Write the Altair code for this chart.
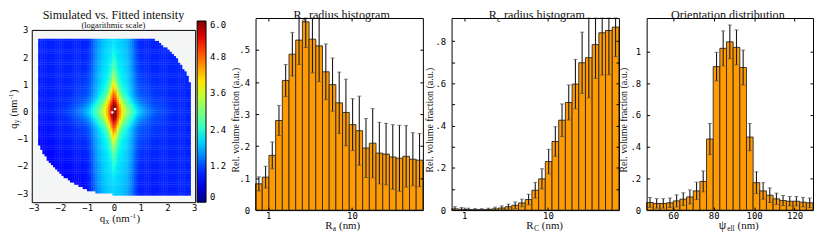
import numpy as np
import pandas as pd
import altair as alt

alt.data_transformers.disable_max_rows()

# ------------------------------------------------------------------ values
RA_VALUES = [0.082, 0.103, 0.171, 0.280, 0.405, 0.487, 0.531, 0.588, 0.534, 0.513,
             0.432, 0.392, 0.335, 0.305, 0.267, 0.248, 0.194, 0.209, 0.178, 0.175,
             0.166, 0.162, 0.168, 0.159, 0.156]
RA_ERRORS = [0.022, 0.034, 0.042, 0.047, 0.050, 0.068, 0.076, 0.080, 0.105, 0.112,
             0.087, 0.083, 0.096, 0.104, 0.081, 0.108, 0.092, 0.108, 0.096, 0.096,
             0.101, 0.103, 0.096, 0.083, 0.083]
RC_VALUES = [0.006, 0.004, 0.003, 0.002, 0.002, 0.003, 0.006, 0.010, 0.016, 0.023,
             0.034, 0.050, 0.094, 0.148, 0.230, 0.325, 0.426, 0.510, 0.597, 0.698,
             0.722, 0.784, 0.840, 0.851, 0.867]
RC_ERRORS = [0.010, 0.008, 0.006, 0.005, 0.005, 0.006, 0.008, 0.010, 0.012, 0.015,
             0.018, 0.025, 0.037, 0.048, 0.058, 0.070, 0.077, 0.083, 0.117, 0.145,
             0.190, 0.160, 0.200, 0.210, 0.140]
OR_VALUES = [0.048, 0.042, 0.042, 0.046, 0.058, 0.069, 0.083, 0.121, 0.181, 0.448,
             0.904, 1.019, 1.060, 1.025, 0.898, 0.460, 0.173, 0.121, 0.094, 0.071,
             0.060, 0.056, 0.056, 0.050, 0.046]
OR_ERRORS = [0.031, 0.030, 0.030, 0.030, 0.038, 0.040, 0.044, 0.055, 0.066, 0.098,
             0.090, 0.110, 0.106, 0.110, 0.110, 0.086, 0.068, 0.052, 0.046, 0.036,
             0.032, 0.030, 0.030, 0.030, 0.030]

R_RANGE = [0.705, 70.5]          # nm, log-spaced bins, also the axis domain
OR_RANGE = [46.9, 129.1]         # linear bins, also the axis domain
RA_YMAX, RC_YMAX, OR_YMAX = 0.6, 0.91, 1.21

R_X_TICKS = [1, 10]
OR_X_TICKS = [60, 80, 100, 120]
RA_Y_LABELS = [0, 0.1, 0.2, 0.3, 0.4, 0.5]
RA_Y_TICKS = [0.1, 0.2, 0.3, 0.4, 0.5]
RC_Y_LABELS = [0, 0.2, 0.4, 0.6, 0.8]
RC_Y_TICKS = [0.1, 0.2, 0.3, 0.4, 0.5, 0.6, 0.7, 0.8]
OR_Y_LABELS = [0, 0.2, 0.4, 0.6, 0.8, 1.0]
OR_Y_TICKS = [0.2, 0.4, 0.6, 0.8, 1.0]
Q_TICKS = [-3, -2, -1, 0, 1, 2, 3]
CBAR_TICKS = [0, 1.2, 2.4, 3.6, 4.8, 6.0]

# scattering image (log10 intensity), parameters
QX_DOMAIN = [-3.074, 3.037]
QY_DOMAIN = [-3.33, 3.0]
HEAT_CELLS = (77, 79)
CORE_PEAK, CORE_WX, CORE_SX, CORE_WY, CORE_SY = 6.3, 0.10, 2.3, 0.50, 3.5
STREAK_LEVEL, STREAK_DECAY, STREAK_HW = 2.3, 0.13, 0.6
BG_LEVEL, BG_BUMP, BG_R, BG_TILT = 0.92, 0.55, 1.4, 0.04
DETECTOR = dict(xmin=-2.84, xmax=2.88, ymin=-3.1, ymax=2.65, rcut=3.05)
CENTER_DOTS_QX = [0.04, -0.06]
CENTER_DOTS_QY = [0.09, -0.03]

# ------------------------------------------------------------------ layout (pixels in the view)
VIEW_W, VIEW_H = 814, 225
HEAT_XR, HEAT_YR = [24, 189], [195, 21]
CBAR_X, CBAR_Y, CBAR_LEN, CBAR_THICK = 191, 12, 183, 9
RA_XR, RC_XR, OR_XR = [250, 419], [448, 617], [645, 813]
HIST_YR = [203, 9]

SERIF = "Liberation Serif"
MONO = "DejaVu Sans Mono"
BAR_FILL = "#ff9b00"
MASK_COLOR = "#f4f5f5"


def jet_hex(t):
    r = np.interp(t, [0, 0.35, 0.66, 0.89, 1], [0, 0, 1, 1, 0.5])
    g = np.interp(t, [0, 0.125, 0.375, 0.64, 0.91, 1], [0, 0, 1, 1, 0, 0])
    b = np.interp(t, [0, 0.11, 0.34, 0.65, 1], [0.5, 1, 1, 0, 0])
    return "#%02x%02x%02x" % (int(round(r * 255)), int(round(g * 255)), int(round(b * 255)))


JET_T = np.linspace(0, 1, 25)
JET_DOMAIN = [round(float(t) * 6, 4) for t in JET_T]
JET_RANGE = [jet_hex(t) for t in JET_T]


# ------------------------------------------------------------------ helpers
def axis(orient, pos, values, labels=False, ticks=False, domain=False, pad=3, expr=None, tsize=3):
    off = {"left": -pos, "right": -(VIEW_W - pos), "top": -pos, "bottom": -(VIEW_H - pos)}[orient]
    kw = dict(orient=orient, offset=off, values=values, labels=labels, ticks=ticks,
              domain=domain, grid=False, title=None, zindex=2,
              tickSize=tsize if ticks else 0, labelPadding=pad)
    if expr:
        kw["labelExpr"] = expr
    return alt.Axis(**kw)


FRAC_EXPR = ("datum.value == 0 ? '0' : (datum.value >= 1 ? format(datum.value, 'd') : "
             "replace(format(datum.value, '.1f'), '0.', '.'))")


def hist_df(values, errors, rng, log):
    n = len(values)
    if log:
        edges = np.geomspace(rng[0], rng[1], n + 1)
        centers = np.sqrt(edges[:-1] * edges[1:])
    else:
        edges = np.linspace(rng[0], rng[1], n + 1)
        centers = (edges[:-1] + edges[1:]) / 2
    v = np.array(values)
    e = np.array(errors)
    return pd.DataFrame({"x0": edges[:-1], "x1": edges[1:], "xc": centers,
                         "v": v, "z": np.zeros(n), "lo": v - e, "hi": v + e})


def hist_panel(values, errors, rng, log, xr, ymax, xlab, ylab, yticks):
    df = hist_df(values, errors, rng, log)
    xs = alt.Scale(type="log" if log else "linear", domain=rng, range=xr, nice=False, zero=False)
    ys = alt.Scale(domain=[0, ymax], range=HIST_YR, nice=False, zero=False, clamp=True)
    base = alt.Chart(df)
    bars = base.mark_rect(fill=BAR_FILL, stroke="#262626", strokeWidth=0.9).encode(
        x=alt.X("x0:Q", scale=xs, axis=axis("bottom", HIST_YR[0], xlab, labels=True, domain=True, pad=1,
                                            expr="format(datum.value, 'd')")),
        x2="x1:Q",
        y=alt.Y("v:Q", scale=ys, axis=axis("left", xr[0], ylab, labels=True, domain=True, pad=6,
                                          expr=FRAC_EXPR)),
        y2="z:Q",
    )
    rules = base.mark_rule(color="#1a1a1a", strokeWidth=1.1).encode(
        x=alt.X("xc:Q", scale=xs, axis=axis("top", HIST_YR[0], xlab, ticks=True)),
        y=alt.Y("lo:Q", scale=ys, axis=axis("right", xr[0], yticks, ticks=True)),
        y2="hi:Q",
    )
    cap_top = base.mark_tick(orient="horizontal", size=4, thickness=1, color="#4a4a4a").encode(
        x=alt.X("xc:Q", scale=xs, axis=axis("bottom", HIST_YR[1], xlab, ticks=True, domain=True)),
        y=alt.Y("hi:Q", scale=ys, axis=axis("left", xr[1], yticks, ticks=True, domain=True)),
    )
    cap_bot = base.mark_tick(orient="horizontal", size=4, thickness=1, color="#4a4a4a").encode(
        x=alt.X("xc:Q", scale=xs, axis=None),
        y=alt.Y("lo:Q", scale=ys, axis=None),
    )
    return alt.layer(bars, rules, cap_top, cap_bot).resolve_axis(x="independent", y="independent")


# ------------------------------------------------------------------ heatmap
nx, ny = HEAT_CELLS
xe = np.linspace(QX_DOMAIN[0], QX_DOMAIN[1], nx + 1)
ye = np.linspace(QY_DOMAIN[0], QY_DOMAIN[1], ny + 1)
xc = (xe[:-1] + xe[1:]) / 2
yc = (ye[:-1] + ye[1:]) / 2
QX, QY = np.meshgrid(xc, yc)
R = np.hypot(QX, QY)
f_core = CORE_PEAK - CORE_SX * np.log10(1 + (QX / CORE_WX) ** 2) - CORE_SY * np.log10(1 + (QY / CORE_WY) ** 2)
streak = 10 ** (STREAK_LEVEL - STREAK_DECAY * np.abs(QY)) * np.exp(-(np.abs(QX) / STREAK_HW) ** 3)
f_bg = BG_LEVEL + BG_BUMP * np.exp(-(R / BG_R) ** 2) - BG_TILT * np.clip(-(QX + QY), 0, None)
F = np.clip(np.log10(10 ** f_core + streak + 10 ** f_bg), 0, 6)
inside = ((QX >= DETECTOR["xmin"]) & (QX <= DETECTOR["xmax"]) &
          (QY >= DETECTOR["ymin"]) & (QY <= DETECTOR["ymax"]) &
          ~((QX * QY > 0) & (R > DETECTOR["rcut"])))
padx = (xe[1] - xe[0]) * 0.15
pady = (ye[1] - ye[0]) * 0.15
X0, Y0 = np.meshgrid(xe[:-1], ye[:-1])
X1, Y1 = np.meshgrid(np.minimum(xe[1:] + padx, xe[-1]), np.minimum(ye[1:] + pady, ye[-1]))
heat_df = pd.DataFrame({
    "x0": X0.ravel().round(4), "x1": X1.ravel().round(4),
    "y0": Y0.ravel().round(4), "y1": Y1.ravel().round(4),
    "f": F.ravel().round(3), "m": (~inside).ravel().astype(int),
})

hxs = alt.Scale(domain=QX_DOMAIN, range=HEAT_XR, nice=False, zero=False)
hys = alt.Scale(domain=QY_DOMAIN, range=HEAT_YR, nice=False, zero=False)
cscale = alt.Scale(domain=JET_DOMAIN, range=JET_RANGE, clamp=True)

heat = alt.Chart(heat_df).mark_rect().encode(
    x=alt.X("x0:Q", scale=hxs, axis=axis("bottom", HEAT_YR[0], Q_TICKS, labels=True, domain=True, pad=1,
                                         expr="format(datum.value, 'd')")),
    x2="x1:Q",
    y=alt.Y("y0:Q", scale=hys, axis=axis("left", HEAT_XR[0], Q_TICKS, labels=True, domain=True, pad=4,
                                         expr="format(datum.value, 'd')")),
    y2="y1:Q",
    color=alt.condition(
        "datum.m == 1", alt.value(MASK_COLOR),
        alt.Color("f:Q", scale=cscale, legend=alt.Legend(
            orient="none", legendX=CBAR_X, legendY=CBAR_Y, direction="vertical",
            gradientLength=CBAR_LEN, gradientThickness=CBAR_THICK, values=CBAR_TICKS,
            labelExpr="datum.value == 0 ? '0' : format(datum.value, '.1f')",
            title=None, labelFont=MONO, labelFontSize=9, labelColor="black", labelOffset=4,
            gradientStrokeColor="black", gradientStrokeWidth=1, padding=0, labelOverlap=False)),
    ),
)
dots = alt.Chart(pd.DataFrame({"qx": CENTER_DOTS_QX, "qy": CENTER_DOTS_QY})).mark_square(
    size=5, color="white", opacity=1).encode(
    x=alt.X("qx:Q", scale=hxs, axis=axis("bottom", HEAT_YR[1], Q_TICKS, domain=True)),
    y=alt.Y("qy:Q", scale=hys, axis=axis("left", HEAT_XR[1], Q_TICKS, domain=True)),
)
heat_panel = alt.layer(heat, dots).resolve_axis(x="independent", y="independent")

ra_panel = hist_panel(RA_VALUES, RA_ERRORS, R_RANGE, True, RA_XR, RA_YMAX, R_X_TICKS, RA_Y_LABELS, RA_Y_TICKS)
rc_panel = hist_panel(RC_VALUES, RC_ERRORS, R_RANGE, True, RC_XR, RC_YMAX, R_X_TICKS, RC_Y_LABELS, RC_Y_TICKS)
or_panel = hist_panel(OR_VALUES, OR_ERRORS, OR_RANGE, False, OR_XR, OR_YMAX, OR_X_TICKS, OR_Y_LABELS, OR_Y_TICKS)

# ------------------------------------------------------------------ texts (with sub/superscripts)
TW = {" ": 250, "(": 333, ")": 333, ".": 250, "-": 333, "1": 500, "a": 444, "b": 500,
      "c": 444, "d": 500, "e": 444, "f": 333, "g": 500, "h": 500, "i": 278, "l": 278, "m": 778,
      "n": 500, "o": 500, "q": 500, "r": 333, "s": 389, "t": 278, "u": 500, "v": 500, "x": 500,
      "y": 500, "R": 667, "C": 667, "S": 556, "F": 556, "O": 722, "ψ": 686}


def tw(s, size):
    return sum(TW.get(ch, 500) for ch in s) / 1000.0 * size


rows = []


def rich(segments, cx, cy, angle=0):
    # segments: (text, font size, baseline shift, gap before in px)
    total = sum(tw(t, s) + g for t, s, _, g in segments)
    pos = -total / 2
    for t, s, sh, g in segments:
        pos += g
        if angle == 0:
            px, py = cx + pos, cy + sh
        else:
            px, py = cx + sh, cy - pos
        rows.append({"t": t, "px": round(px, 2), "py": round(py, 2), "fs": s, "ang": angle})
        pos += tw(t, s)


rich([("Simulated vs. Fitted intensity", 12.2, 0, 0)], 106.5, 9.6)
rich([("(logarithmic scale)", 8.6, 0, 0)], 106.5, 19.3)
rich([("R", 12.2, 0, 0), ("a", 8.3, 3, 0.3), ("radius histogram", 12.2, 0, 3.4)], 337, 9.6)
rich([("R", 12.2, 0, 0), ("c", 8.3, 3, 0.3), ("radius histogram", 12.2, 0, 3.4)], 534, 9.6)
rich([("Orientation distribution", 12.2, 0, 0)], 727, 9.6)

rich([("q", 11, 0, 0), ("x", 7.5, 2.5, 0.3), ("(nm", 11, 0, 3), ("-1", 7, -4, 0.5), (")", 11, 0, 0.5)], 113, 215)
rich([("R", 11, 0, 0), ("a", 7.5, 2.5, 0.3), ("(nm)", 11, 0, 3)], 338, 222)
rich([("R", 11, 0, 0), ("C", 7.5, 2.5, 0.3), ("(nm)", 11, 0, 3)], 542, 222)
rich([("ψ", 12, 0, 0), ("ell", 7.5, 2.5, 0.3), ("(nm)", 11, 0, 3)], 738, 222)

rich([("q", 10.5, 0, 0), ("y", 7.5, 2.5, 0.3), ("(nm", 10.5, 0, 3), ("-1", 7, -4, 0.5), (")", 10.5, 0, 0.5)],
     8.8, 101, 270)
for xcen in (230.5, 427, 623):
    rich([("Rel. volume fraction (a.u.)", 10, 0, 0)], xcen + 2.5, 112, 270)

texts = alt.Chart(pd.DataFrame(rows)).mark_text(
    align="left", baseline="alphabetic", font=SERIF, color="#111111").encode(
    x=alt.X("px:Q", scale=None, axis=None),
    y=alt.Y("py:Q", scale=None, axis=None),
    text="t:N",
    size=alt.Size("fs:Q", scale=None, legend=None),
    angle=alt.Angle("ang:Q", scale=None, legend=None),
)

chart = alt.layer(heat_panel, ra_panel, rc_panel, or_panel, texts).resolve_scale(
    x="independent", y="independent", color="independent", size="independent", angle="independent"
).resolve_axis(x="independent", y="independent").properties(
    width=VIEW_W, height=VIEW_H, autosize=alt.AutoSizeParams(type="none"), padding=0,
    background="white",
).configure_axis(
    labelFont=MONO, labelFontSize=9, labelColor="black", domainColor="black", tickColor="black",
    domainWidth=1, tickWidth=1, labelFlush=False, labelOverlap=False, grid=False,
).configure_view(stroke="transparent")

chart.save("out.html", embed_options={"renderer": "svg", "actions": False})
